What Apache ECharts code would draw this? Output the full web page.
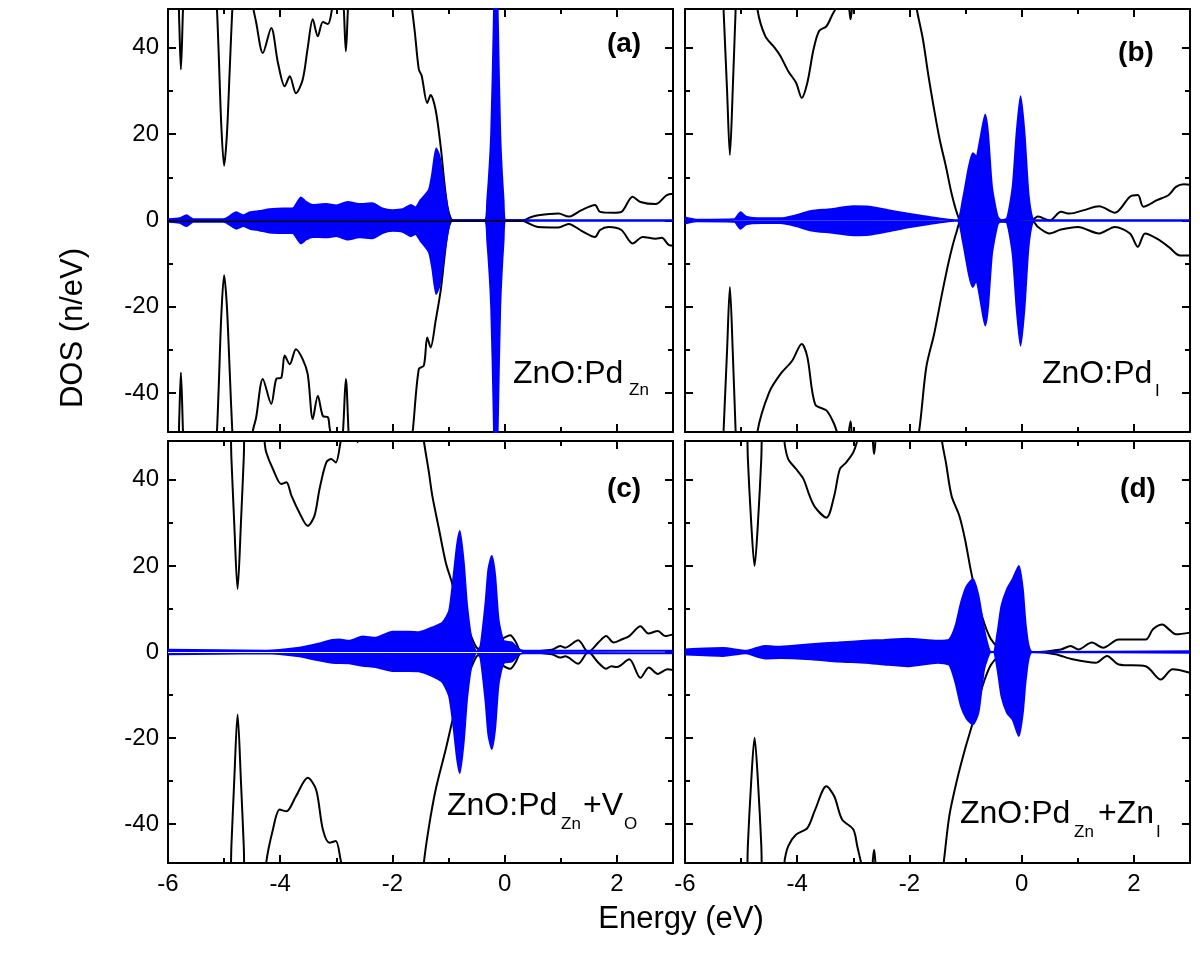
<!DOCTYPE html>
<html>

<head>
  <meta charset="utf-8">
  <title>DOS ZnO:Pd</title>
  <script src="https://cdn.jsdelivr.net/npm/echarts@6/dist/echarts.min.js"></script>
</head>

<body style="margin:0; background:#fff;">
  <div id="main" style="width: 1200px; height: 960px;"></div>
  <script type="text/javascript">
    // tick positions
    var energyTicks = [-6, -4, -2, 0, 2];
    var energyMinor = [-5, -3, -1, 1];
    var dosTicks = [-40, -20, 0, 20, 40];
    var dosMinor = [-30, -10, 10, 30];

    // (a) ZnO:Pd_Zn  total DOS spin up / down, Pd DOS up / down  [E, DOS]
    var aUp = [[-6, 60], [-5.84, 60], [-5.8, 46], [-5.77, 35], [-5.73, 50], [-5.69, 60], [-5.2, 60], [-5.14, 52], [-5.1, 40], [-5.05, 22], [-5.0, 12.7], [-4.95, 20], [-4.9, 35], [-4.85, 50], [-4.8, 60], [-4.55, 60], [-4.49, 50], [-4.43, 46], [-4.31, 38.8], [-4.16, 44.6], [-4.04, 36.5], [-3.92, 31.1], [-3.83, 33.4], [-3.72, 29.5], [-3.6, 32.6], [-3.51, 40], [-3.42, 46.6], [-3.33, 42.7], [-3.24, 46], [-3.15, 45.5], [-3.07, 49.5], [-2.95, 58], [-2.88, 52], [-2.83, 39.2], [-2.78, 52], [-2.7, 60], [-1.75, 60], [-1.66, 50], [-1.6, 43.5], [-1.53, 35], [-1.48, 33.6], [-1.38, 27.2], [-1.32, 29.1], [-1.23, 25.6], [-1.14, 17.1], [-1.08, 9.4], [-1.02, 3.2], [-0.96, 0.5], [-0.9, 0], [0.3, 0], [0.37, 0.2], [0.45, 0.7], [0.6, 1.2], [0.96, 1.6], [1.14, 0.9], [1.37, 2.4], [1.61, 3.6], [1.7, 2.0], [1.94, 1.8], [2.08, 2.0], [2.28, 5.5], [2.42, 4.3], [2.69, 3.8], [2.89, 5.9], [3, 6.2]];
    var aDn = [[-6, -60], [-5.84, -60], [-5.8, -46], [-5.77, -35.2], [-5.73, -50], [-5.69, -60], [-5.2, -60], [-5.14, -52], [-5.1, -40], [-5.05, -22], [-5.0, -12.7], [-4.95, -20], [-4.9, -35], [-4.85, -50], [-4.8, -60], [-4.55, -60], [-4.49, -49], [-4.43, -45.7], [-4.31, -36.7], [-4.16, -42.5], [-4.07, -36.7], [-3.98, -36.4], [-3.92, -31.3], [-3.83, -33.3], [-3.72, -29.8], [-3.6, -32.1], [-3.51, -35.6], [-3.42, -46], [-3.33, -40.6], [-3.24, -45.3], [-3.15, -45.6], [-3.12, -48], [-3.0, -56], [-2.9, -52], [-2.83, -36.7], [-2.77, -52], [-2.7, -60], [-1.75, -60], [-1.64, -49], [-1.53, -34.4], [-1.44, -33.6], [-1.38, -27.1], [-1.32, -29.4], [-1.23, -23.2], [-1.14, -16.2], [-1.08, -9.3], [-1.02, -3], [-0.96, -0.3], [-0.9, 0], [0.3, 0], [0.37, -0.3], [0.6, -1.5], [0.96, -1.6], [1.14, -0.8], [1.37, -2.4], [1.61, -3.8], [1.7, -2.2], [1.85, -1.5], [2.08, -2.2], [2.28, -5.3], [2.46, -3.8], [2.69, -4.2], [2.8, -4.0], [2.93, -5.7], [3, -5.8]];
    var aPdUp = [[-6, 0.3], [-5.79, 0.5], [-5.67, 1.2], [-5.55, 0.3], [-5.02, 0.3], [-4.96, 0.5], [-4.78, 1.9], [-4.66, 1.2], [-4.54, 1.9], [-4.37, 2.2], [-4.19, 2.6], [-3.95, 2.8], [-3.78, 2.8], [-3.63, 5.3], [-3.54, 4.3], [-3.42, 3.6], [-3.18, 3.8], [-3.0, 3.5], [-2.8, 4.3], [-2.59, 3.8], [-2.36, 4.0], [-2.18, 2.8], [-2.0, 2.4], [-1.82, 2.6], [-1.67, 3.6], [-1.59, 3.0], [-1.5, 4.7], [-1.35, 7.1], [-1.29, 10.9], [-1.22, 16.7], [-1.16, 14.8], [-1.08, 7.8], [-0.99, 0.9], [-0.95, 0], [-0.36, 0], [-0.31, 4.7], [-0.24, 20], [-0.195, 45], [-0.16, 70], [-0.12, 45], [-0.08, 20], [-0.02, 4.7], [0.02, 0], [3, 0]];
    var aPdDn = [[-6, -0.3], [-5.79, -0.5], [-5.67, -1.3], [-5.55, -0.3], [-5.02, -0.3], [-4.96, -0.5], [-4.78, -1.9], [-4.66, -1.3], [-4.54, -1.9], [-4.37, -2.3], [-4.19, -2.8], [-3.95, -2.9], [-3.78, -2.9], [-3.63, -5.3], [-3.54, -4.4], [-3.42, -3.8], [-3.18, -3.9], [-3.0, -3.6], [-2.8, -4.4], [-2.59, -3.9], [-2.36, -4.1], [-2.18, -2.9], [-2.0, -2.4], [-1.82, -2.6], [-1.67, -3.6], [-1.59, -3.1], [-1.5, -4.7], [-1.35, -7.3], [-1.29, -11], [-1.22, -17], [-1.16, -15], [-1.08, -8], [-0.99, -1], [-0.95, 0], [-0.36, 0], [-0.31, -4.7], [-0.24, -20], [-0.195, -45], [-0.16, -70], [-0.12, -45], [-0.08, -20], [-0.02, -4.7], [0.02, 0], [3, 0]];

    // (b) ZnO:Pd_I
    var bUp = [[-6, 60], [-5.35, 60], [-5.31, 48], [-5.25, 30], [-5.2, 15.2], [-5.15, 30], [-5.1, 48], [-5.06, 60], [-4.78, 60], [-4.71, 49], [-4.57, 42.7], [-4.4, 40], [-4.3, 38.1], [-4.16, 34.6], [-4.02, 31.9], [-3.92, 28.4], [-3.82, 31.9], [-3.71, 39.6], [-3.61, 43.9], [-3.48, 45], [-3.37, 47.8], [-3.3, 49.5], [-3.2, 55], [-3.1, 52], [-3.05, 46.6], [-3.0, 52], [-2.9, 58], [-2.0, 60], [-1.87, 49], [-1.76, 42], [-1.66, 33.4], [-1.56, 25.7], [-1.46, 18.7], [-1.35, 12.5], [-1.25, 6.3], [-1.15, 1.6], [-1.08, 0], [0.2, 0.3], [0.29, 0.9], [0.5, 0], [0.7, 2], [0.85, 1.6], [1.11, 2.4], [1.38, 3.3], [1.66, 1.8], [1.93, 5.5], [2.07, 5.9], [2.17, 3.2], [2.41, 4.7], [2.62, 5.9], [2.75, 7.8], [2.89, 8.4], [3, 8.3]];
    var bDn = [[-6, -60], [-5.35, -60], [-5.31, -48], [-5.25, -30], [-5.2, -15.4], [-5.15, -30], [-5.1, -48], [-5.06, -60], [-4.75, -60], [-4.71, -49], [-4.5, -39.8], [-4.3, -35.6], [-4.09, -32.5], [-3.92, -28.6], [-3.82, -31.6], [-3.68, -42.6], [-3.48, -44], [-3.34, -47.2], [-3.27, -50], [-3.15, -55], [-3.05, -46.5], [-2.97, -55], [-2.0, -60], [-1.83, -49], [-1.7, -34], [-1.56, -26.3], [-1.42, -17], [-1.28, -8.4], [-1.15, -2.2], [-1.08, -0.3], [0.2, -0.3], [0.29, -1.5], [0.5, -3], [0.7, -2.1], [1.0, -1.5], [1.38, -3], [1.66, -1.5], [1.93, -3], [2.07, -6.1], [2.2, -3], [2.41, -4.2], [2.62, -6.1], [2.82, -8.1], [3, -8.1]];
    var bPdUp = [[-6, 0.7], [-5.8, 0.2], [-5.12, 0.3], [-5.01, 1.9], [-4.91, 0.9], [-4.64, 0.5], [-4.3, 0.5], [-4.02, 1.2], [-3.75, 2.2], [-3.41, 2.6], [-3.0, 3.3], [-2.72, 3.2], [-2.38, 2.4], [-2.04, 1.6], [-1.7, 0.9], [-1.15, 0], [-1.05, 4.7], [-0.94, 12.5], [-0.87, 15.6], [-0.81, 14.8], [-0.74, 18.7], [-0.65, 24.5], [-0.6, 20.2], [-0.53, 7.8], [-0.43, 0.9], [-0.36, 0], [-0.26, 0.5], [-0.16, 7.8], [-0.09, 20.2], [-0.02, 28.8], [0.05, 20.2], [0.12, 6.3], [0.19, 0.5], [0.25, 0], [3, 0]];
    var bPdDn = [[-6, -0.7], [-5.8, -0.2], [-5.12, -0.3], [-5.01, -1.9], [-4.91, -0.9], [-4.64, -0.6], [-4.3, -0.6], [-4.02, -1.3], [-3.75, -2.3], [-3.41, -2.8], [-3.0, -3.4], [-2.72, -3.3], [-2.38, -2.5], [-2.04, -1.6], [-1.7, -0.9], [-1.15, 0], [-1.05, -4.7], [-0.94, -12.5], [-0.87, -15.4], [-0.81, -13.8], [-0.74, -18], [-0.65, -24.3], [-0.6, -20], [-0.53, -7.8], [-0.43, -0.9], [-0.36, 0], [-0.26, -0.5], [-0.16, -7.8], [-0.09, -20.2], [-0.02, -29], [0.05, -20.2], [0.12, -6.3], [0.19, -0.5], [0.25, 0], [3, 0]];

    // (c) ZnO:Pd_Zn+V_O
    var cUp = [[-6, 60], [-4.92, 60], [-4.87, 45], [-4.82, 30], [-4.76, 14.6], [-4.7, 30], [-4.65, 45], [-4.6, 60], [-4.35, 60], [-4.28, 49], [-4.25, 46.4], [-4.13, 42.5], [-3.98, 39], [-3.89, 39.4], [-3.8, 36.3], [-3.66, 32.4], [-3.51, 29.3], [-3.39, 31.6], [-3.3, 37.8], [-3.18, 44], [-3.09, 44.8], [-3.01, 44], [-2.92, 49], [-2.8, 55], [-2.68, 52], [-2.62, 48.7], [-2.56, 52], [-2.4, 60], [-1.55, 60], [-1.44, 49], [-1.35, 41.7], [-1.29, 36.3], [-1.17, 28.5], [-1.05, 20.8], [-0.94, 16.1], [-0.82, 10], [-0.64, 5], [-0.5, 1], [-0.4, 0.5], [-0.2, 1.5], [-0.05, 3], [0.1, 3.9], [0.19, 2.5], [0.31, 0], [0.84, 0.5], [0.99, 1.4], [1.08, 1], [1.31, 2.7], [1.49, 0], [1.67, 2.2], [1.81, 3.7], [1.94, 2.2], [2.08, 2.9], [2.22, 3.7], [2.42, 6], [2.56, 4.3], [2.73, 4.9], [2.86, 3.7], [3, 4.1]];
    var cDn = [[-6, -60], [-4.92, -60], [-4.87, -45], [-4.82, -30], [-4.76, -14.5], [-4.7, -30], [-4.65, -45], [-4.6, -60], [-4.3, -60], [-4.25, -49], [-4.13, -41.2], [-4.01, -36.6], [-3.89, -37], [-3.72, -33.5], [-3.51, -29.2], [-3.36, -32], [-3.24, -41.2], [-3.12, -44.3], [-3.01, -43.9], [-2.92, -48.5], [-2.8, -55], [-2.4, -60], [-1.5, -60], [-1.44, -49], [-1.35, -40.6], [-1.23, -32], [-1.05, -22.6], [-0.94, -16.4], [-0.82, -10], [-0.64, -5], [-0.5, -1], [-0.4, -0.5], [-0.2, -1.5], [-0.05, -3], [0.1, -3.9], [0.19, -2.5], [0.31, 0], [0.84, -0.5], [0.99, -1.3], [1.08, -1], [1.31, -2.7], [1.49, 0], [1.67, -2.5], [1.81, -3.9], [1.9, -3.3], [2.0, -3.5], [2.22, -1.7], [2.42, -6], [2.57, -3.6], [2.73, -5.1], [2.9, -4], [3, -4.2]];
    var cPdUp = [[-6, 0.5], [-4.25, 0.3], [-3.66, 1], [-3.36, 1.8], [-3.07, 2.8], [-2.95, 2.9], [-2.77, 2.6], [-2.53, 3.6], [-2.3, 3.3], [-2.0, 4.7], [-1.7, 4.7], [-1.53, 4.6], [-1.29, 5.7], [-1.11, 6.8], [-0.99, 9.5], [-0.91, 17.7], [-0.85, 24.7], [-0.8, 28.1], [-0.73, 20.8], [-0.67, 10.7], [-0.58, 2.2], [-0.5, 0], [-0.43, 1.4], [-0.34, 11.5], [-0.29, 19.2], [-0.23, 22.3], [-0.17, 17.7], [-0.11, 7.6], [-0.02, 2.6], [0.13, 2.2], [0.25, 0.6], [0.34, 0.3], [3, 0.3]];
    var cPdDn = [[-6, -0.5], [-4.25, -0.3], [-3.66, -1], [-3.36, -1.8], [-3.07, -2.5], [-2.77, -2.6], [-2.53, -3.2], [-2.3, -3.5], [-2.0, -4.4], [-1.7, -4.4], [-1.53, -4.5], [-1.29, -5.6], [-1.11, -7], [-0.99, -10.2], [-0.91, -17.5], [-0.85, -24.5], [-0.8, -28.1], [-0.73, -20.8], [-0.67, -10.7], [-0.58, -2.2], [-0.5, 0], [-0.43, -1.4], [-0.34, -11.5], [-0.29, -19.2], [-0.23, -22.5], [-0.17, -17.7], [-0.11, -7.6], [-0.02, -2.6], [0.13, -2.2], [0.25, -0.6], [0.34, -0.3], [3, -0.3]];

    // (d) ZnO:Pd_Zn+Zn_I
    var dUp = [[-6, 60], [-4.92, 60], [-4.88, 45], [-4.82, 30], [-4.76, 20], [-4.7, 30], [-4.64, 45], [-4.6, 60], [-4.3, 60], [-4.23, 49], [-4.16, 44.8], [-4.02, 42.5], [-3.89, 40.2], [-3.78, 36.3], [-3.68, 33.6], [-3.48, 31.2], [-3.34, 36.3], [-3.24, 42.5], [-3.13, 44], [-3.0, 46.4], [-2.93, 49], [-2.8, 55], [-2.68, 52], [-2.63, 46], [-2.58, 52], [-2.4, 60], [-1.5, 60], [-1.42, 49], [-1.35, 44], [-1.25, 36.3], [-1.11, 31.6], [-1.01, 26.2], [-0.91, 19.2], [-0.84, 15], [-0.7, 8], [-0.55, 3], [-0.4, 1], [-0.2, 0.3], [0.22, 0], [0.7, 0.6], [0.87, 1.4], [1.01, 0.6], [1.25, 2.2], [1.45, 1], [1.73, 2.9], [2.21, 2.9], [2.34, 5.3], [2.51, 6.4], [2.62, 5.3], [2.75, 4.1], [3, 4.5]];
    var dDn = [[-6, -60], [-4.92, -60], [-4.88, -45], [-4.82, -30], [-4.76, -19.9], [-4.7, -30], [-4.64, -45], [-4.6, -60], [-4.3, -60], [-4.23, -49], [-4.16, -45.1], [-4.02, -42.4], [-3.82, -40.9], [-3.68, -36.6], [-3.48, -31.2], [-3.34, -33.5], [-3.2, -38.9], [-3.0, -41.2], [-2.93, -45.1], [-2.86, -49], [-2.75, -55], [-2.68, -52], [-2.63, -45.9], [-2.58, -52], [-2.4, -60], [-1.5, -60], [-1.39, -49], [-1.29, -38.1], [-1.15, -29.6], [-1.01, -22.6], [-0.88, -16.8], [-0.7, -8], [-0.55, -3], [-0.4, -1], [-0.2, -0.3], [0.22, 0], [0.6, -0.5], [0.91, -1.7], [1.32, -2.5], [1.52, -0.9], [1.73, -2.9], [2.21, -3.3], [2.48, -6.4], [2.69, -4], [3, -4.8]];
    var dPdUp = [[-6, 0.6], [-5.32, 0.9], [-4.91, 0.3], [-4.71, 1.0], [-4.57, 1.4], [-4.3, 1.2], [-3.75, 1.8], [-3.27, 2.2], [-2.79, 2.6], [-2.45, 2.8], [-2.04, 3.1], [-1.49, 2.6], [-1.29, 2.9], [-1.18, 6], [-1.08, 11.5], [-0.98, 15.3], [-0.87, 16.9], [-0.77, 13], [-0.67, 5.3], [-0.57, 0.2], [-0.5, 0], [-0.43, 4.5], [-0.36, 10.7], [-0.26, 14.6], [-0.16, 16.9], [-0.05, 20], [0.02, 14.6], [0.08, 5.3], [0.19, 0], [3, 0.2]];
    var dPdDn = [[-6, -0.6], [-5.32, -0.9], [-4.91, -0.3], [-4.71, -1.1], [-4.57, -1.5], [-4.3, -1.4], [-3.75, -1.7], [-3.27, -2.2], [-2.79, -2.5], [-2.45, -2.9], [-2.04, -3.3], [-1.49, -2.5], [-1.29, -3], [-1.18, -7.1], [-1.08, -12.6], [-0.98, -15.5], [-0.87, -16.8], [-0.77, -14], [-0.67, -4], [-0.57, -0.2], [-0.5, 0], [-0.43, -4], [-0.36, -10.2], [-0.26, -14.1], [-0.16, -15.7], [-0.05, -19.5], [0.02, -14.1], [0.08, -5.6], [0.19, 0], [3, -0.2]];

    var FONT = '"Liberation Sans", Arial, sans-serif';

    var panels = [
      { left: 168, top: 9, height: 423, tot: [aUp, aDn], pd: [aPdUp, aPdDn], xLab: false, yLab: true, tag: '(a)', tagX: 624, tagY: 44 },
      { left: 685, top: 9, height: 423, tot: [bUp, bDn], pd: [bPdUp, bPdDn], xLab: false, yLab: false, tag: '(b)', tagX: 1136, tagY: 53 },
      { left: 168, top: 441, height: 422, tot: [cUp, cDn], pd: [cPdUp, cPdDn], xLab: true, yLab: true, tag: '(c)', tagX: 624, tagY: 489 },
      { left: 685, top: 441, height: 422, tot: [dUp, dDn], pd: [dPdUp, dPdDn], xLab: true, yLab: false, tag: '(d)', tagX: 1138, tagY: 489 }
    ];

    var grids = [], xAxes = [], yAxes = [], series = [], graphics = [];

    function axis(g, kind, pos, ticks, len, line, labels, showLab) {
      var isX = kind === 'x';
      return {
        gridIndex: g, type: 'value', position: pos,
        min: isX ? -6 : -49, max: isX ? 3 : 49,
        splitLine: { show: false },
        axisLine: { show: line, onZero: false, lineStyle: { color: '#000', width: 2 } },
        axisTick: { show: true, inside: true, length: len, customValues: ticks, lineStyle: { color: '#000', width: 2 } },
        axisLabel: { show: showLab, customValues: labels, color: '#000', fontSize: 24, fontFamily: FONT, margin: isX ? 9 : 9 }
      };
    }

    panels.forEach(function (p, g) {
      grids.push({ left: p.left, top: p.top, width: 505, height: p.height, containLabel: false, outerBoundsMode: 'none' });
      xAxes.push(axis(g, 'x', 'bottom', energyTicks, 8, true, energyTicks, p.xLab));
      xAxes.push(axis(g, 'x', 'bottom', energyMinor, 5, false, [], false));
      xAxes.push(axis(g, 'x', 'top', energyTicks, 8, true, [], false));
      xAxes.push(axis(g, 'x', 'top', energyMinor, 5, false, [], false));
      yAxes.push(axis(g, 'y', 'left', dosTicks, 8, true, dosTicks, p.yLab));
      yAxes.push(axis(g, 'y', 'left', dosMinor, 5, false, [], false));
      yAxes.push(axis(g, 'y', 'right', dosTicks, 8, true, [], false));
      yAxes.push(axis(g, 'y', 'right', dosMinor, 5, false, [], false));

      p.tot.forEach(function (d) {
        series.push({
          type: 'line', xAxisIndex: 4 * g, yAxisIndex: 4 * g, data: d,
          showSymbol: false, smooth: 0.3, clip: true, z: 3, silent: true,
          lineStyle: { color: '#000', width: 2 }
        });
      });
      p.pd.forEach(function (d, k) {
        var s = {
          type: 'line', xAxisIndex: 4 * g, yAxisIndex: 4 * g, data: d,
          showSymbol: false, smooth: 0.2, clip: true, z: 4, silent: true,
          lineStyle: { color: '#0000ff', width: 2 },
          areaStyle: { color: '#0000ff', opacity: 1, origin: 0 }
        };
        if (k === 0 && (g === 0 || g === 2)) {
          s.markLine = {
            silent: true, symbol: 'none', label: { show: false }, animation: false,
            lineStyle: { color: g === 0 ? '#000' : '#fff', width: g === 0 ? 1.6 : 1, type: 'solid' },
            data: [[{ coord: [-6, 0] }, { coord: [g === 0 ? 0.35 : 0.3, 0] }]]
          };
        }
        series.push(s);
      });

      graphics.push({
        type: 'text', x: p.tagX, y: p.tagY, z: 10,
        style: { text: p.tag, font: 'bold 28px ' + FONT, fill: '#000', align: 'center', verticalAlign: 'middle' }
      });
    });

    // annotation pieces: text, left x, baseline y, subscript?
    var notes = [
      ['ZnO:Pd', 513, 385, 0], ['Zn', 629, 396, 1],
      ['ZnO:Pd', 1042, 385, 0], ['I', 1155, 397, 1],
      ['ZnO:Pd', 447, 817, 0], ['Zn', 561, 830, 1], ['+V', 583, 817, 0], ['O', 624, 830, 1],
      ['ZnO:Pd', 960, 825, 0], ['Zn', 1074, 838, 1], ['+Zn', 1098, 825, 0], ['I', 1156, 838, 1]
    ];
    notes.forEach(function (n) {
      var size = n[3] ? 17 : 32;
      graphics.push({
        type: 'text', x: n[1], y: n[2] - size * 0.35, z: 10,
        style: { text: n[0], font: size + 'px ' + FONT, fill: '#000', align: 'left', verticalAlign: 'middle' }
      });
    });

    graphics.push({
      type: 'text', x: 73, y: 328, rotation: Math.PI / 2, z: 10,
      style: { text: 'DOS (n/eV)', font: '31px ' + FONT, fill: '#000', align: 'center', verticalAlign: 'middle' }
    });
    graphics.push({
      type: 'text', x: 681, y: 919, z: 10,
      style: { text: 'Energy (eV)', font: '31px ' + FONT, fill: '#000', align: 'center', verticalAlign: 'middle' }
    });

    var myChart = echarts.init(document.getElementById('main'));
    myChart.setOption({
      animation: false,
      backgroundColor: '#fff',
      grid: grids,
      xAxis: xAxes,
      yAxis: yAxes,
      series: series,
      graphic: graphics
    });
  </script>
</body>

</html>
